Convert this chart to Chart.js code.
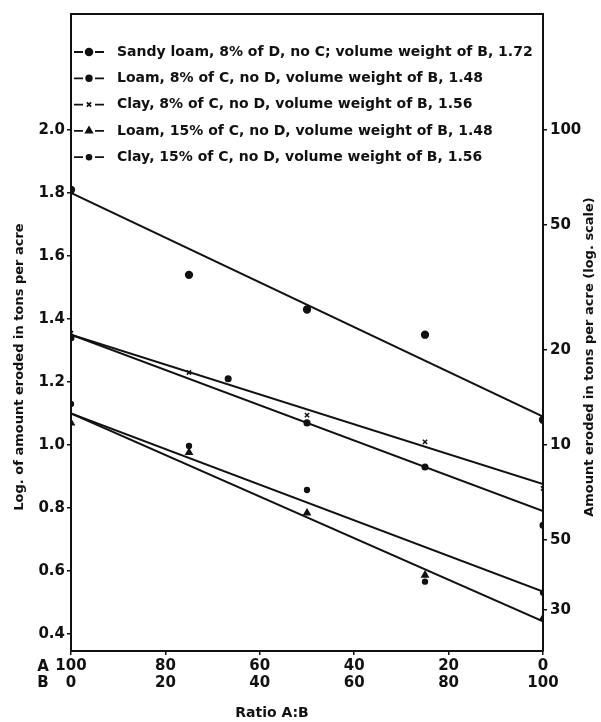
<!DOCTYPE html>
<html>
<head>
<meta charset="utf-8">
<title>Erosion vs ratio A:B</title>
<script src="https://cdn.jsdelivr.net/npm/chart.js@4.4.1/dist/chart.umd.min.js"></script>
<style>
  html, body { margin: 0; padding: 0; background: #fff; }
  #wrap { width: 601px; height: 722px; }
</style>
</head>
<body>
<div id="wrap"><canvas id="erosionChart" width="601" height="722"></canvas></div>
<script>
// series names, in legend order
const seriesLabels = [
    'Sandy loam, 8% of D, no C; volume weight of B, 1.72',
    'Loam, 8% of C, no D, volume weight of B, 1.48',
    'Clay, 8% of C, no D, volume weight of B, 1.56',
    'Loam, 15% of C, no D, volume weight of B, 1.48',
    'Clay, 15% of C, no D, volume weight of B, 1.56'
];

// percent of A in the mix (B = 100 - A)
const ratioA = [100, 75, 50, 25, 0];
const ratioALoam8 = [100, 66.7, 50, 25, 0];

// log of amount eroded, tons per acre
const sandyLoam = [1.81, 1.54, 1.43, 1.35, 1.08];
const loam8 = [1.34, 1.21, 1.07, 0.93, 0.745];
const clay8 = [1.355, 1.23, 1.095, 1.01, 0.862];
const loam15 = [1.07, 0.976, 0.784, 0.587, 0.45];
const clay15 = [1.13, 0.997, 0.857, 0.566, 0.531];

// fitted straight lines, value at A = 100 and at A = 0
const fitA = [100, 0];
const sandyLoamFit = [1.80, 1.09];
const loam8Fit = [1.35, 0.79];
const clay8Fit = [1.35, 0.876];
const loam15Fit = [1.10, 0.44];
const clay15Fit = [1.10, 0.535];

// axes
const xTicks = [100, 80, 60, 40, 20, 0];
const xTickLabelsA = ['100', '80', '60', '40', '20', '0'];
const xTickLabelsB = ['0', '20', '40', '60', '80', '100'];
const leftTicks = [0.4, 0.6, 0.8, 1.0, 1.2, 1.4, 1.6, 1.8, 2.0];
const rightTickTons = [100, 50, 20, 10, 5, 3];
const rightTickLabels = ['100', '50', '20', '10', '50', '30'];

const FONT = "'DejaVu Sans', 'Liberation Sans', sans-serif";
const INK = '#111';
const Y_MIN = 0.346;
const Y_MAX = 2.368;

const seriesX = [ratioA, ratioALoam8, ratioA, ratioA, ratioA];
const seriesY = [sandyLoam, loam8, clay8, loam15, clay15];
const seriesFit = [sandyLoamFit, loam8Fit, clay8Fit, loam15Fit, clay15Fit];

const markers = [
    { pointStyle: 'circle', radius: 3.4 },
    { pointStyle: 'circle', radius: 2.8 },
    { pointStyle: 'crossRot', radius: 3 },
    { pointStyle: 'triangle', radius: 3.6 },
    { pointStyle: 'circle', radius: 2.4 }
];

const toPoints = (xs, ys) => xs.map((x, i) => ({ x: x, y: ys[i] }));

const datasets = [];
seriesLabels.forEach((label, i) => {
    datasets.push({
        type: 'line',
        label: label + ' (fit)',
        data: toPoints(fitA, seriesFit[i]),
        borderColor: INK,
        borderWidth: 2,
        pointRadius: 0,
        fill: false
    });
    datasets.push({
        type: 'scatter',
        label: label,
        data: toPoints(seriesX[i], seriesY[i]),
        pointStyle: markers[i].pointStyle,
        pointRadius: markers[i].radius,
        borderWidth: 1.5,
        borderColor: INK,
        backgroundColor: INK
    });
});

const tickFont = { family: FONT, size: 15, weight: 'bold', lineHeight: 1.1 };
const axisGrid = { drawOnChartArea: false, drawTicks: true, tickLength: 4, color: INK, lineWidth: 1.5 };
const axisBorder = { color: INK, width: 2 };

// frame top, legend, axis titles and the A/B row names
const decorations = {
    id: 'decorations',
    afterDraw(chart) {
        const { ctx, chartArea } = chart;
        const { left, right, top, bottom } = chartArea;
        ctx.save();
        ctx.strokeStyle = INK;
        ctx.fillStyle = INK;
        ctx.lineWidth = 2;
        ctx.beginPath();
        ctx.moveTo(left - 1, top);
        ctx.lineTo(right + 1, top);
        ctx.stroke();

        // legend
        ctx.font = 'bold 14px ' + FONT;
        ctx.textBaseline = 'middle';
        ctx.textAlign = 'left';
        seriesLabels.forEach((label, i) => {
            const y = top + 38 + i * 26.3;
            ctx.lineWidth = 1.8;
            ctx.beginPath();
            ctx.moveTo(left + 3, y);
            ctx.lineTo(left + 12, y);
            ctx.moveTo(left + 24, y);
            ctx.lineTo(left + 33, y);
            ctx.stroke();
            Chart.helpers.drawPoint(ctx, {
                pointStyle: markers[i].pointStyle,
                radius: markers[i].radius,
                rotation: 0,
                borderWidth: 1.5
            }, left + 18, y);
            ctx.fill();
            ctx.fillText(label, left + 46, y);
        });

        // row names under the x axis
        ctx.font = 'bold 15px ' + FONT;
        ctx.textAlign = 'center';
        ctx.fillText('A', 43, bottom + 16);
        ctx.fillText('B', 43, bottom + 32);

        ctx.font = 'bold 14px ' + FONT;
        ctx.fillText('Ratio A:B', 272, bottom + 62);

        ctx.font = 'bold 13px ' + FONT;
        ctx.save();
        ctx.translate(20, 367);
        ctx.rotate(-Math.PI / 2);
        ctx.fillText('Log. of amount eroded in tons per acre', 0, 0);
        ctx.restore();

        ctx.save();
        ctx.translate(590, 357);
        ctx.rotate(-Math.PI / 2);
        ctx.fillText('Amount eroded in tons per acre (log. scale)', 0, 0);
        ctx.restore();
        ctx.restore();
    }
};

new Chart(document.getElementById('erosionChart'), {
    data: { datasets: datasets },
    options: {
        responsive: false,
        animation: false,
        layout: { padding: { top: 14, left: 0, right: 0, bottom: 0 } },
        plugins: {
            legend: { display: false },
            tooltip: { enabled: false }
        },
        scales: {
            x: {
                type: 'linear',
                min: 0,
                max: 100,
                reverse: true,
                afterBuildTicks: s => { s.ticks = xTicks.map(v => ({ value: v })); },
                afterFit: s => { s.height = 71; },
                ticks: {
                    callback: (v, i) => [xTickLabelsA[i], xTickLabelsB[i]],
                    font: tickFont,
                    color: INK,
                    maxRotation: 0,
                    padding: 3
                },
                grid: axisGrid,
                border: axisBorder
            },
            y: {
                type: 'linear',
                position: 'left',
                min: Y_MIN,
                max: Y_MAX,
                afterBuildTicks: s => { s.ticks = leftTicks.map(v => ({ value: v })); },
                afterFit: s => { s.width = 71; },
                ticks: {
                    callback: v => v.toFixed(1),
                    font: tickFont,
                    color: INK,
                    padding: 2
                },
                grid: axisGrid,
                border: axisBorder
            },
            y2: {
                type: 'linear',
                position: 'right',
                min: Y_MIN,
                max: Y_MAX,
                afterBuildTicks: s => { s.ticks = rightTickTons.map(t => ({ value: Math.log10(t) })); },
                afterFit: s => { s.width = 58; },
                ticks: {
                    callback: (v, i) => rightTickLabels[i],
                    font: tickFont,
                    color: INK,
                    padding: 3
                },
                grid: axisGrid,
                border: axisBorder
            }
        }
    },
    plugins: [decorations]
});
</script>
</body>
</html>
